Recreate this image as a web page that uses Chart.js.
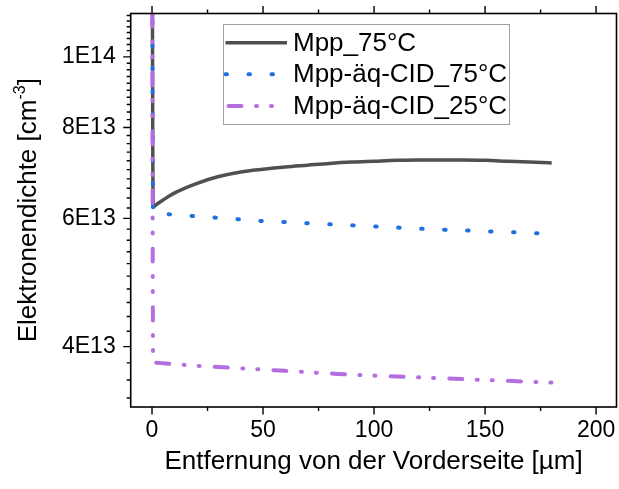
<!DOCTYPE html>
<html><head><meta charset="utf-8">
<script src="https://cdn.jsdelivr.net/npm/chart.js@4.4.0/dist/chart.umd.min.js"></script>
<style>html,body{margin:0;padding:0;background:#fff;}#wrap{width:619px;height:489px;}</style>
</head><body><div id="wrap"><canvas id="c" width="619" height="489"></canvas></div>
<script>
const distance = [0, 0.5, 2, 5, 10, 20, 30, 40, 50, 60, 70, 80, 90, 100, 110, 120, 130, 140, 150, 160, 170, 180];
const mpp75 = [2.0e14, 6.22e13, 6.27e13, 6.36e13, 6.50e13, 6.70e13, 6.85e13, 6.95e13, 7.01e13, 7.06e13, 7.10e13, 7.14e13, 7.17e13, 7.19e13, 7.21e13, 7.22e13, 7.22e13, 7.22e13, 7.21e13, 7.19e13, 7.17e13, 7.15e13];
const mppCid75 = [2.0e14, 6.10e13, 6.10e13, 6.09e13, 6.07e13, 6.04e13, 6.01e13, 5.98e13, 5.95e13, 5.93e13, 5.91e13, 5.89e13, 5.87e13, 5.85e13, 5.83e13, 5.81e13, 5.79e13, 5.78e13, 5.76e13, 5.75e13, 5.73e13, 5.72e13];
const mppCid25 = [2.0e14, 3.80e13, 3.80e13, 3.795e13, 3.785e13, 3.765e13, 3.75e13, 3.735e13, 3.72e13, 3.705e13, 3.69e13, 3.675e13, 3.66e13, 3.65e13, 3.64e13, 3.63e13, 3.62e13, 3.61e13, 3.60e13, 3.59e13, 3.58e13, 3.57e13];
const seriesLabels = ['Mpp_75°C', 'Mpp-äq-CID_75°C', 'Mpp-äq-CID_25°C'];
const xTickValues = [0, 50, 100, 150, 200];
const xTickLabels = ['0', '50', '100', '150', '200'];
const yTickValues = [4e13, 6e13, 8e13, 1e14];
const yTickLabels = ['4E13', '6E13', '8E13', '1E14'];
const xTitle = 'Entfernung von der Vorderseite [µm]';
const yTitleMain = 'Elektronendichte [cm';
const yTitleSup = '-3';
const yTitleEnd = ']';

const FONT = "'Liberation Sans', Arial, sans-serif";
const toPts = (ys) => distance.map((x, i) => ({x: x, y: ys[i]}));

const framePlugin = {
  id: 'frame',
  afterDraw(chart) {
    const {ctx, chartArea: a, scales: {x, y}} = chart;
    ctx.save();
    ctx.strokeStyle = '#000';
    ctx.lineWidth = 1.6;
    ctx.strokeRect(a.left, a.top, a.right - a.left, a.bottom - a.top);
    ctx.lineWidth = 1.4;
    ctx.beginPath();
    for (let v = 3.4e13; v <= 1.141e14; v += 2e12) {
      const vv = Math.round(v / 1e12) * 1e12;
      const major = yTickValues.some(t => Math.abs(t - vv) < 1e11);
      const py = y.getPixelForValue(vv);
      if (py < a.top - 0.5 || py > a.bottom + 0.5) continue;
      const len = major ? 7.5 : 4;
      ctx.moveTo(a.left - len, py); ctx.lineTo(a.left, py);
    }
    for (let v = 0; v <= 200; v += 25) {
      const major = xTickValues.includes(v);
      const px = x.getPixelForValue(v);
      const len = major ? 7.5 : 4;
      ctx.moveTo(px, a.bottom); ctx.lineTo(px, a.bottom + len);
      ctx.moveTo(px, a.top); ctx.lineTo(px, a.top - len);
    }
    ctx.stroke();

    ctx.fillStyle = '#000';
    const mainFont = '26px ' + FONT, supFont = '16px ' + FONT;
    ctx.font = mainFont; const w1 = ctx.measureText(yTitleMain).width; const w3 = ctx.measureText(yTitleEnd).width;
    ctx.font = supFont; const w2 = ctx.measureText(yTitleSup).width;
    const total = w1 + w2 + w3;
    ctx.translate(36, (a.top + a.bottom) / 2);
    ctx.rotate(-Math.PI / 2);
    ctx.textBaseline = 'alphabetic';
    ctx.textAlign = 'left';
    let sx = -total / 2;
    ctx.font = mainFont; ctx.fillText(yTitleMain, sx, 0); sx += w1;
    ctx.font = supFont; ctx.fillText(yTitleSup, sx, -11); sx += w2;
    ctx.font = mainFont; ctx.fillText(yTitleEnd, sx, 0);
    ctx.restore();

    ctx.save();
    const lx = a.left + 92.3, ly = a.top + 10.5, lw = 286, lh = 100;
    ctx.fillStyle = '#fff';
    ctx.fillRect(lx, ly, lw, lh);
    ctx.strokeStyle = '#a0a0a0';
    ctx.lineWidth = 1;
    ctx.strokeRect(lx + 0.5, ly + 0.5, lw, lh);
    chart.data.datasets.forEach((ds, i) => {
      const cy = ly + 18.7 + i * 31.6;
      ctx.beginPath();
      ctx.strokeStyle = ds.borderColor;
      ctx.lineWidth = ds.borderWidth;
      ctx.lineCap = ds.borderCapStyle || 'butt';
      ctx.setLineDash(ds.borderDash || []);
      ctx.lineDashOffset = i === 2 ? -3 : 0;
      ctx.moveTo(lx + 2.5, cy); ctx.lineTo(lx + 64, cy);
      ctx.stroke();
      ctx.setLineDash([]);
      ctx.fillStyle = '#000';
      ctx.font = '26px ' + FONT;
      ctx.textBaseline = 'middle';
      ctx.textAlign = 'left';
      ctx.fillText(ds.label, lx + 70, cy + 1);
    });
    ctx.restore();
  }
};

new Chart(document.getElementById('c'), {
  type: 'line',
  data: {
    datasets: [
      {label: seriesLabels[0], data: toPts(mpp75), borderColor: '#505050', borderWidth: 3.5, borderCapStyle: 'butt', pointRadius: 0, tension: 0.3, order: 3, clip: 0},
      {label: seriesLabels[1], data: toPts(mppCid75), borderColor: '#1e6fe0', borderWidth: 4, borderCapStyle: 'round', borderDash: [1.5, 21.5], pointRadius: 0, tension: 0.3, order: 2, clip: 0},
      {label: seriesLabels[2], data: toPts(mppCid25), borderColor: '#b56ee0', borderWidth: 4, borderCapStyle: 'round', borderDash: [13, 14.5, 1, 14, 1, 15.2], pointRadius: 0, tension: 0.3, order: 1, clip: 0}
    ]
  },
  options: {
    responsive: false,
    animation: false,
    devicePixelRatio: 1,
    layout: {padding: {left: 0, right: 2.5, top: 13.5, bottom: 0}},
    plugins: {legend: {display: false}, tooltip: {enabled: false}},
    elements: {line: {cubicInterpolationMode: 'monotone'}},
    scales: {
      x: {
        type: 'linear', min: -9.6, max: 209.2,
        afterFit: (s) => { s.height = 82; s.paddingLeft = 0; s.paddingRight = 0; },
        afterBuildTicks: (s) => { s.ticks = xTickValues.map(v => ({value: v})); },
        ticks: {color: '#000', font: {size: 23, family: FONT}, padding: 10, autoSkip: false, maxRotation: 0,
          callback: (v) => xTickLabels[xTickValues.indexOf(v)]},
        grid: {display: false, drawTicks: false, tickLength: 0},
        border: {display: false},
        title: {display: true, text: xTitle, color: '#000', font: {size: 26, family: FONT}, padding: {top: 0, bottom: 12}}
      },
      y: {
        type: 'logarithmic', min: 3.305e13, max: 1.147e14,
        afterFit: (s) => { s.width = 130.7; s.paddingTop = 0; s.paddingBottom = 0; },
        afterBuildTicks: (s) => { s.ticks = yTickValues.map(v => ({value: v})); },
        ticks: {color: '#000', font: {size: 23, family: FONT}, padding: 15, autoSkip: false,
          callback: (v) => yTickLabels[yTickValues.indexOf(v)]},
        grid: {display: false, drawTicks: false, tickLength: 0},
        border: {display: false},
        title: {display: false}
      }
    }
  },
  plugins: [framePlugin]
});
</script>
</body></html>
